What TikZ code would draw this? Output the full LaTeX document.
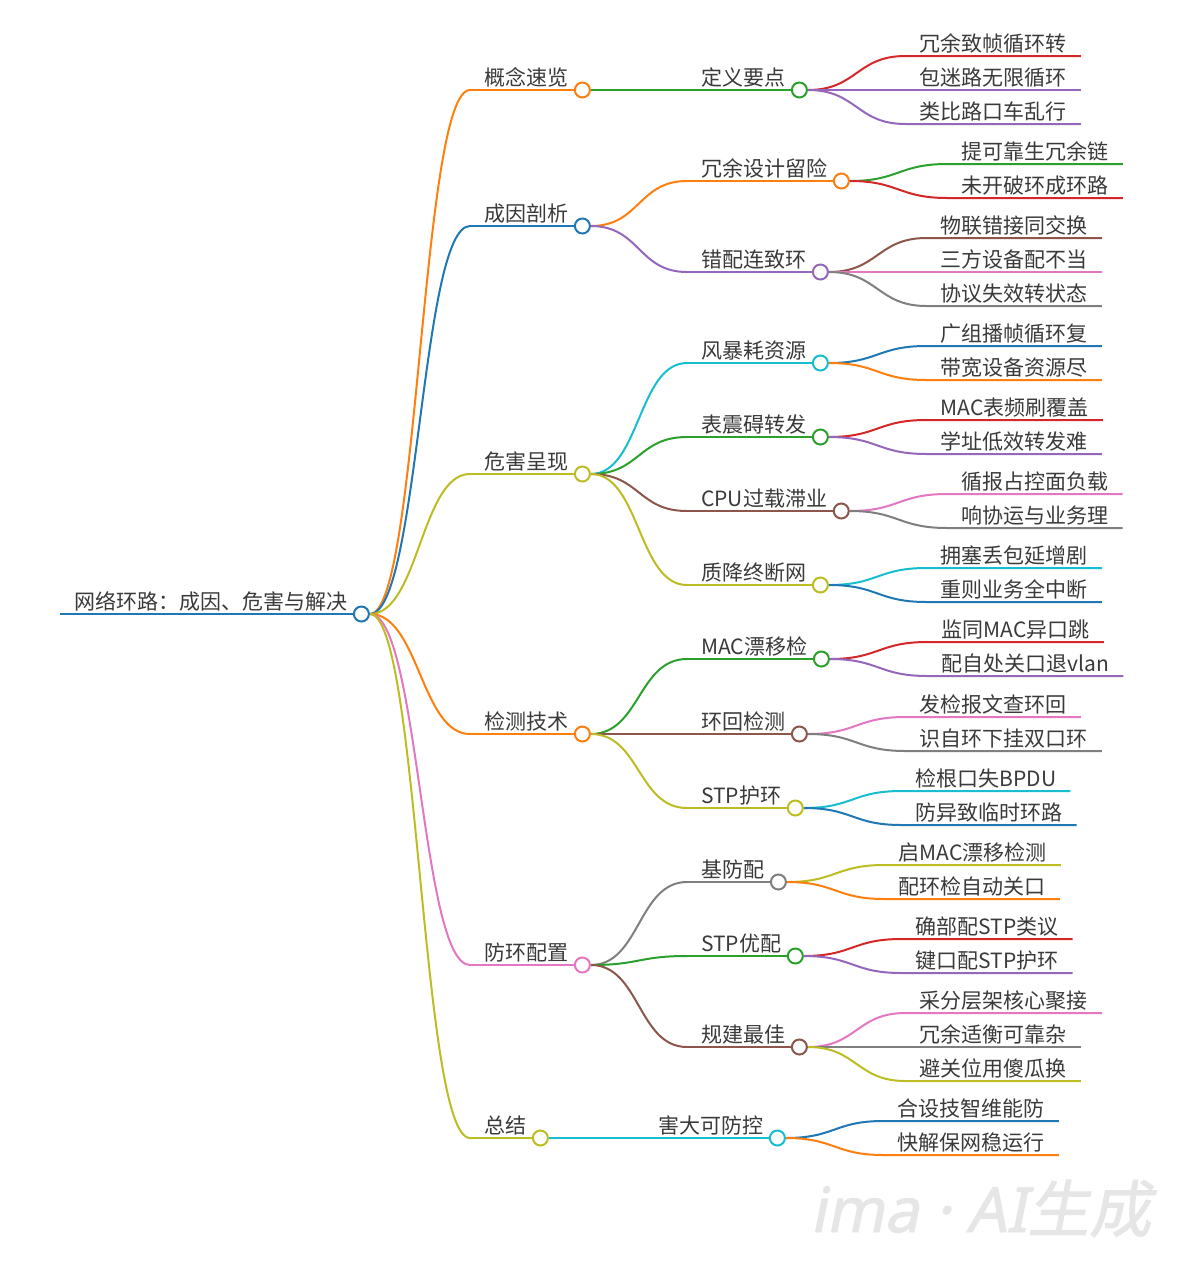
\documentclass[tikz,border=0pt]{standalone}
\usepackage{fontspec}
\setmainfont{Noto Sans CJK SC}
\newfontfamily\wmfont[FakeSlant=0.2,FakeBold=1.5]{Noto Sans CJK SC}
\newfontfamily\wmlat[FakeSlant=0.2,FakeBold=1.5]{Noto Sans}
\usetikzlibrary{calc}
\pgfdeclarelayer{bg}
\pgfdeclarelayer{edges}
\pgfsetlayers{bg,edges,main}
\definecolor{cBlue}{HTML}{1F77B4}
\definecolor{cOrange}{HTML}{FF7F0E}
\definecolor{cGreen}{HTML}{2CA02C}
\definecolor{cRed}{HTML}{D62728}
\definecolor{cPurple}{HTML}{9467BD}
\definecolor{cBrown}{HTML}{8C564B}
\definecolor{cPink}{HTML}{E377C2}
\definecolor{cGray}{HTML}{7F7F7F}
\definecolor{cOlive}{HTML}{BCBD22}
\definecolor{cCyan}{HTML}{17BECF}
\definecolor{textc}{HTML}{3A3A3A}
\definecolor{wmgray}{HTML}{E6E6E6}
\tikzset{
  mtext/.style={inner xsep=14pt, inner ysep=4pt, text height=16pt, text depth=0pt,
    font=\fontsize{21}{25}\selectfont, text=textc},
  mcirc/.style={circle, minimum size=15pt, inner sep=0pt, fill=white, line width=2pt},
  mline/.style={line width=2pt}
}
\newcommand\mmnode[5]{%
  \node[mtext, anchor=south west] (#1) at (#2,#3) {#5};
  \node[mcirc, draw=#4] (#1-dot) at (#1.south east) {};
  \begin{pgfonlayer}{edges}
    \draw[mline, #4] (#1.south west) -- (#1-dot.center);
  \end{pgfonlayer}}
\newcommand\mmlink[3]{%
  \begin{pgfonlayer}{edges}
    \draw[mline, #3] (#1-dot.east) .. controls +(49,0) and +(-49,0) .. (#2.south west);
  \end{pgfonlayer}}
\newcommand\mmleaf[5]{%
  \path let \p1=(#2-dot.center) in node[mtext, anchor=south west] (#1) at (\x1+106pt,-#3pt) {#5};
  \begin{pgfonlayer}{edges}
    \draw[mline, #4] (#2-dot.east) .. controls +(49,0) and +(-49,0) .. (#1.south west) -- (#1.south east);
  \end{pgfonlayer}}
\begin{document}
\begin{tikzpicture}[x=1pt,y=-1pt]
\useasboundingbox (0,0) rectangle (1185,1280);
\begin{pgfonlayer}{bg}
\fill[white] (0,0) rectangle (1185,1280);
\end{pgfonlayer}
% root
\mmnode{R}{60}{614}{cBlue}{网络环路：成因、危害与解决}
% level 1
\mmnode{A}{470}{90}{cOrange}{概念速览}
\mmnode{B}{470}{226}{cBlue}{成因剖析}
\mmnode{C}{470}{474}{cOlive}{危害呈现}
\mmnode{D}{470}{734}{cOrange}{检测技术}
\mmnode{E}{470}{965}{cPink}{防环配置}
\mmnode{F}{470}{1138}{cOlive}{总结}
\mmlink{R}{A}{cOrange}
\mmlink{R}{B}{cBlue}
\mmlink{R}{C}{cOlive}
\mmlink{R}{D}{cOrange}
\mmlink{R}{E}{cPink}
\mmlink{R}{F}{cOlive}
% level 2
\mmnode{Aa}{687}{90}{cGreen}{定义要点}
\mmnode{Ba}{687}{181}{cOrange}{冗余设计留险}
\mmnode{Bb}{687}{272}{cPurple}{错配连致环}
\mmnode{Ca}{687}{363}{cCyan}{风暴耗资源}
\mmnode{Cb}{687}{437}{cGreen}{表震碍转发}
\mmnode{Cc}{687}{511}{cBrown}{CPU过载滞业}
\mmnode{Cd}{687}{585}{cOlive}{质降终断网}
\mmnode{Da}{687}{659}{cGreen}{MAC漂移检}
\mmnode{Db}{687}{734}{cBrown}{环回检测}
\mmnode{Dc}{687}{808}{cOlive}{STP护环}
\mmnode{Ea}{687}{882}{cGray}{基防配}
\mmnode{Eb}{687}{956}{cGreen}{STP优配}
\mmnode{Ec}{687}{1047}{cBrown}{规建最佳}
\mmnode{Fa}{644}{1138}{cCyan}{害大可防控}
\mmlink{A}{Aa}{cGreen}
\mmlink{B}{Ba}{cOrange}
\mmlink{B}{Bb}{cPurple}
\mmlink{C}{Ca}{cCyan}
\mmlink{C}{Cb}{cGreen}
\mmlink{C}{Cc}{cBrown}
\mmlink{C}{Cd}{cOlive}
\mmlink{D}{Da}{cGreen}
\mmlink{D}{Db}{cBrown}
\mmlink{D}{Dc}{cOlive}
\mmlink{E}{Ea}{cGray}
\mmlink{E}{Eb}{cGreen}
\mmlink{E}{Ec}{cBrown}
\mmlink{F}{Fa}{cCyan}
% leaves
\mmleaf{Aa1}{Aa}{56}{cRed}{冗余致帧循环转}
\mmleaf{Aa2}{Aa}{90}{cPurple}{包迷路无限循环}
\mmleaf{Aa3}{Aa}{124}{cPurple}{类比路口车乱行}
\mmleaf{Ba1}{Ba}{164}{cGreen}{提可靠生冗余链}
\mmleaf{Ba2}{Ba}{198}{cRed}{未开破环成环路}
\mmleaf{Bb1}{Bb}{238}{cBrown}{物联错接同交换}
\mmleaf{Bb2}{Bb}{272}{cPink}{三方设备配不当}
\mmleaf{Bb3}{Bb}{306}{cGray}{协议失效转状态}
\mmleaf{Ca1}{Ca}{346}{cBlue}{广组播帧循环复}
\mmleaf{Ca2}{Ca}{380}{cOrange}{带宽设备资源尽}
\mmleaf{Cb1}{Cb}{420}{cRed}{MAC表频刷覆盖}
\mmleaf{Cb2}{Cb}{454}{cPurple}{学址低效转发难}
\mmleaf{Cc1}{Cc}{494}{cPink}{循报占控面负载}
\mmleaf{Cc2}{Cc}{528}{cGray}{响协运与业务理}
\mmleaf{Cd1}{Cd}{568}{cCyan}{拥塞丢包延增剧}
\mmleaf{Cd2}{Cd}{602}{cBlue}{重则业务全中断}
\mmleaf{Da1}{Da}{642}{cRed}{监同MAC异口跳}
\mmleaf{Da2}{Da}{676}{cPurple}{配自处关口退vlan}
\mmleaf{Db1}{Db}{717}{cPink}{发检报文查环回}
\mmleaf{Db2}{Db}{751}{cGray}{识自环下挂双口环}
\mmleaf{Dc1}{Dc}{791}{cCyan}{检根口失BPDU}
\mmleaf{Dc2}{Dc}{825}{cBlue}{防异致临时环路}
\mmleaf{Ea1}{Ea}{865}{cOlive}{启MAC漂移检测}
\mmleaf{Ea2}{Ea}{899}{cOrange}{配环检自动关口}
\mmleaf{Eb1}{Eb}{939}{cRed}{确部配STP类议}
\mmleaf{Eb2}{Eb}{973}{cPurple}{键口配STP护环}
\mmleaf{Ec1}{Ec}{1013}{cPink}{采分层架核心聚接}
\mmleaf{Ec2}{Ec}{1047}{cGray}{冗余适衡可靠杂}
\mmleaf{Ec3}{Ec}{1081}{cOlive}{避关位用傻瓜换}
\mmleaf{Fa1}{Fa}{1121}{cBlue}{合设技智维能防}
\mmleaf{Fa2}{Fa}{1155}{cOrange}{快解保网稳运行}
% watermark
\node[font=\fontsize{62}{70}\selectfont, text=wmgray, anchor=base west, inner sep=0pt] (wm) at (810,1232) {{\wmlat ima\hspace{0.25em}·\hspace{0.25em}AI}{\wmfont 生成}};
\end{tikzpicture}
\end{document}
